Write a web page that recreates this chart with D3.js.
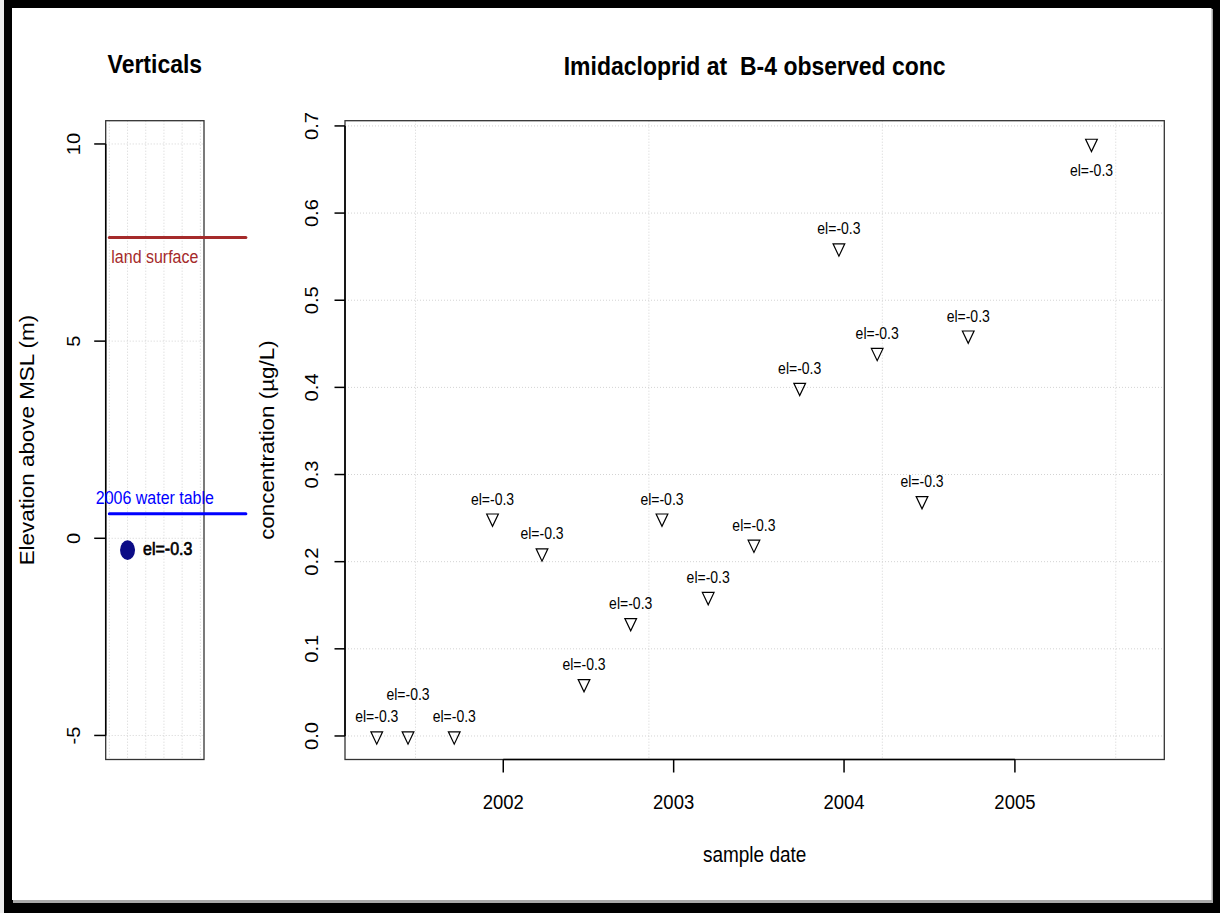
<!DOCTYPE html>
<html>
<head>
<meta charset="utf-8">
<script src="https://cdn.jsdelivr.net/npm/d3@7"></script>
<style>
  html, body { margin: 0; padding: 0; background: #fff; }
  svg { display: block; }
  text { font-family: "Liberation Sans", Arial, sans-serif; }
</style>
</head>
<body>
<svg id="chart" width="1220" height="913"></svg>
<script>
// ── Datos ──
const sampleDates = [
  "2001-04-05", "2001-06-11", "2001-09-18", "2001-12-09",
  "2002-03-25", "2002-06-23", "2002-10-01", "2002-12-07",
  "2003-03-16", "2003-06-22", "2003-09-28", "2003-12-21",
  "2004-03-12", "2004-06-16", "2004-09-23", "2005-06-14"
];
const concValues = [0, 0, 0, 0.25, 0.21, 0.06, 0.13, 0.25, 0.16, 0.22, 0.40, 0.56, 0.44, 0.27, 0.46, 0.68];
const pointLabels = sampleDates.map(() => "el=-0.3");
// 1 = arriba, 2 = más arriba, -1 = debajo
const labelSide = [1, 2, 1, 1, 1, 1, 1, 1, 1, 1, 1, 1, 1, 1, 1, -1];

const yTicksMain = [0, 0.1, 0.2, 0.3, 0.4, 0.5, 0.6, 0.7];
const xTickYears = [2002, 2003, 2004, 2005];
const gridDays = [11500, 12000, 12500, 13000];   // días desde 1970 (grid de R)

const elevTicks = [-5, 0, 5, 10];
const elevGridX = [0, 0.2, 0.4, 0.6, 0.8, 1];
const landSurface = 7.63;
const waterTable = 0.62;
const wellX = [0.2];
const wellElev = [-0.3];
const wellLabels = ["el=-0.3"];

// ── Constantes de dibujo ──
const K = 1.12;               // estiramiento vertical del texto
const GRID = "#d3d3d3";
const parseDay = d3.utcParse("%Y-%m-%d");
const dayDate = n => new Date(n * 864e5);

const svg = d3.select("#chart");

// ── Marco exterior ──
svg.append("rect").attr("width", 1220).attr("height", 913).attr("fill", "#000");
svg.append("rect").attr("width", 4).attr("height", 913).attr("fill", "#ececec");
svg.append("rect").attr("x", 13).attr("y", 9).attr("width", 1200).attr("height", 894).attr("fill", "#a9a9a9");
svg.append("rect").attr("x", 12).attr("y", 8).attr("width", 1199.5).attr("height", 892).attr("fill", "#fff");

function txt(g, x, y, s, size, opts = {}) {
  const tf = opts.rot
    ? `translate(${x},${y}) rotate(-90) scale(${K},1)`
    : `translate(${x},${y}) scale(1,${K})`;
  return g.append("text")
    .attr("transform", tf)
    .attr("font-size", size)
    .attr("font-weight", opts.bold ? "bold" : null)
    .attr("text-anchor", opts.anchor || "middle")
    .attr("fill", opts.fill || "#000")
    .style("white-space", "pre")
    .text(s);
}

// ══ Panel izquierdo: Verticals ══
const L = { left: 105.7, right: 204, top: 120.7, bottom: 759.5 };
const lx = d3.scaleLinear().domain([-0.04, 1.04]).range([L.left, L.right]);
const ly = d3.scaleLinear().domain([-5.61, 10.59]).range([L.bottom, L.top]);
const gL = svg.append("g");

gL.append("g").selectAll("line").data(elevGridX).join("line")
  .attr("x1", d => lx(d)).attr("x2", d => lx(d))
  .attr("y1", L.top).attr("y2", L.bottom)
  .attr("stroke", GRID).attr("stroke-dasharray", "1,2");
gL.append("g").selectAll("line").data(elevTicks).join("line")
  .attr("x1", L.left).attr("x2", L.right)
  .attr("y1", d => ly(d)).attr("y2", d => ly(d))
  .attr("stroke", GRID).attr("stroke-dasharray", "1,2");

gL.append("rect")
  .attr("x", L.left).attr("y", L.top)
  .attr("width", L.right - L.left).attr("height", L.bottom - L.top)
  .attr("fill", "none").attr("stroke", "#333").attr("stroke-width", 1.3);

// eje y
gL.append("line")
  .attr("x1", L.left).attr("x2", L.left)
  .attr("y1", ly(10)).attr("y2", ly(-5))
  .attr("stroke", "#000").attr("stroke-width", 1.5);
gL.append("g").selectAll("line").data(elevTicks).join("line")
  .attr("x1", L.left - 11.5).attr("x2", L.left)
  .attr("y1", d => ly(d)).attr("y2", d => ly(d))
  .attr("stroke", "#000").attr("stroke-width", 1.5);
elevTicks.forEach(t => txt(gL, 80, ly(t), String(t), 18, { rot: true }));
txt(gL, 34, (L.top + L.bottom) / 2, "Elevation above MSL (m)", 20, { rot: true });

// superficie y nivel freático
gL.append("line")
  .attr("x1", lx(0)).attr("x2", lx(1.5))
  .attr("y1", ly(landSurface)).attr("y2", ly(landSurface))
  .attr("stroke", "#a52a2a").attr("stroke-width", 3).attr("stroke-linecap", "round");
txt(gL, lx(0.5), ly(landSurface) + 25.5, "land surface", 16, { fill: "#a52a2a" });

gL.append("line")
  .attr("x1", lx(0)).attr("x2", lx(1.5))
  .attr("y1", ly(waterTable)).attr("y2", ly(waterTable))
  .attr("stroke", "#0000ff").attr("stroke-width", 3).attr("stroke-linecap", "round");
txt(gL, lx(0.5), ly(waterTable) - 9.5, "2006 water table", 16, { fill: "#0000ff" });

gL.append("g").selectAll("ellipse").data(wellElev).join("ellipse")
  .attr("cx", (d, i) => lx(wellX[i])).attr("cy", d => ly(d))
  .attr("rx", 7.5).attr("ry", 9.8)
  .attr("fill", "#0c0c86");
wellElev.forEach((d, i) => {
  txt(gL, lx(wellX[i]) + 15.5, ly(d) + 4.5, wellLabels[i], 16, { anchor: "start" })
    .attr("stroke", "#000").attr("stroke-width", 0.6);
});

txt(gL, (L.left + L.right) / 2, 73, "Verticals", 23, { bold: true });

// ══ Panel principal ══
const M = { left: 345, right: 1164.3, top: 120.7, bottom: 759.5 };
const x = d3.scaleUtc().domain([dayDate(11349), dayDate(13104)]).range([M.left, M.right]);
const y = d3.scaleLinear().domain([-0.027, 0.706]).range([M.bottom, M.top]);
const g = svg.append("g");

g.append("g").selectAll("line").data(gridDays).join("line")
  .attr("x1", d => x(dayDate(d))).attr("x2", d => x(dayDate(d)))
  .attr("y1", M.top).attr("y2", M.bottom)
  .attr("stroke", GRID).attr("stroke-dasharray", "1,2");
g.append("g").selectAll("line").data(yTicksMain).join("line")
  .attr("x1", M.left).attr("x2", M.right)
  .attr("y1", d => y(d)).attr("y2", d => y(d))
  .attr("stroke", GRID).attr("stroke-dasharray", "1,2");

g.append("rect")
  .attr("x", M.left).attr("y", M.top)
  .attr("width", M.right - M.left).attr("height", M.bottom - M.top)
  .attr("fill", "none").attr("stroke", "#333").attr("stroke-width", 1.3);

// eje x
const yearX = yr => x(Date.UTC(yr, 0, 1));
g.append("line")
  .attr("x1", yearX(xTickYears[0])).attr("x2", yearX(xTickYears[xTickYears.length - 1]))
  .attr("y1", M.bottom).attr("y2", M.bottom)
  .attr("stroke", "#000").attr("stroke-width", 1.6);
g.append("g").selectAll("line").data(xTickYears).join("line")
  .attr("x1", d => yearX(d)).attr("x2", d => yearX(d))
  .attr("y1", M.bottom).attr("y2", M.bottom + 13)
  .attr("stroke", "#000").attr("stroke-width", 1.5);
xTickYears.forEach(t => txt(g, yearX(t), 809, String(t), 18.5));
txt(g, (M.left + M.right) / 2, 862, "sample date", 19);

// eje y
g.append("line")
  .attr("x1", M.left).attr("x2", M.left)
  .attr("y1", y(0.7)).attr("y2", y(0))
  .attr("stroke", "#000").attr("stroke-width", 1.6);
g.append("g").selectAll("line").data(yTicksMain).join("line")
  .attr("x1", M.left - 10.5).attr("x2", M.left)
  .attr("y1", d => y(d)).attr("y2", d => y(d))
  .attr("stroke", "#000").attr("stroke-width", 1.5);
yTicksMain.forEach(t => txt(g, 318, y(t), d3.format(".1f")(t), 18, { rot: true }));
txt(g, 274, (M.top + M.bottom) / 2, "concentration (µg/L)", 20, { rot: true });

// puntos (triángulo invertido, pch 6)
const tri = "M-5.85,-4.1L5.85,-4.1L0,8.2Z";
g.append("g").selectAll("path").data(concValues).join("path")
  .attr("transform", (d, i) => `translate(${x(parseDay(sampleDates[i]))},${y(d)})`)
  .attr("d", tri)
  .attr("fill", "none").attr("stroke", "#000").attr("stroke-width", 1.2);

const labelDy = { "1": -13.5, "2": -35.5, "-1": 33 };
concValues.forEach((d, i) => {
  txt(g, x(parseDay(sampleDates[i])), y(d) + labelDy[labelSide[i]], pointLabels[i], 14);
});

txt(g, (M.left + M.right) / 2, 75, "Imidacloprid at  B-4 observed conc", 23, { bold: true });
</script>
</body>
</html>
